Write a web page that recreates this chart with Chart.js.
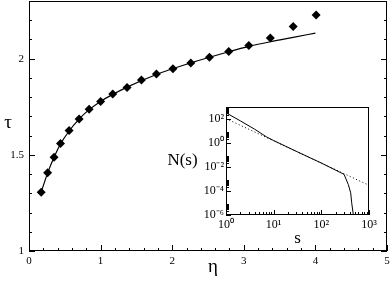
<!DOCTYPE html>
<html lang="en">
<head>
<meta charset="UTF-8">
<title>tau vs eta</title>
<script src="https://cdn.jsdelivr.net/npm/chart.js"></script>
<style>
    body { margin: 0; padding: 0; background: #fff; }
    .wrap { position: relative; width: 390px; height: 281px; }
    #mainChart { position: absolute; left: 0; top: 0; }
    #insetChart { position: absolute; left: 160px; top: 100px; }
</style>
</head>
<body>
<div class="wrap">
    <canvas id="mainChart" width="390" height="281"></canvas>
    <canvas id="insetChart" width="225" height="150"></canvas>
</div>
<script>
// main plot: tau against eta (diamonds) and the fitted curve
var etaPoints = [0.17, 0.26, 0.35, 0.44, 0.56, 0.70, 0.84, 1.00, 1.17, 1.37, 1.57, 1.78, 2.01, 2.26, 2.52, 2.79, 3.07, 3.37, 3.69, 4.01];
var tauPoints = [1.306, 1.407, 1.488, 1.559, 1.626, 1.687, 1.737, 1.778, 1.817, 1.850, 1.889, 1.921, 1.948, 1.978, 2.008, 2.038, 2.069, 2.107, 2.168, 2.227];
var etaFit = [0.17, 0.26, 0.35, 0.44, 0.56, 0.70, 0.84, 1.00, 1.37, 1.78, 2.26, 2.79, 3.07, 3.37, 3.69, 4.00];
var tauFit = [1.306, 1.405, 1.487, 1.556, 1.624, 1.686, 1.735, 1.778, 1.852, 1.918, 1.978, 2.036, 2.064, 2.088, 2.111, 2.133];
var xTicks = [0, 1, 2, 3, 4, 5];
var yTicks = [1, 1.5, 2];

// inset: N(s) on log-log axes
var sSolid = [1, 2, 4, 7, 10, 30, 100, 250, 300, 368, 413, 433, 470];
var nSolid = [330, 70, 14, 3.3, 1.6, 0.2, 0.0214, 0.0035, 0.0024, 3.5e-4, 7e-5, 1.05e-5, 1e-6];
var sDotted = [1, 1000];
var nDotted = [107, 3.0e-4];
var sTicks = [1, 10, 100, 1000];
var nTicks = [1e-6, 1e-4, 1e-2, 1, 100];

var serif = 'Liberation Serif';
var sup = { '0': '\u2070', '1': '\u00b9', '2': '\u00b2', '3': '\u00b3', '4': '\u2074', '6': '\u2076', '-': '\u207b' };
function pow10Label(v) {
    var e = String(Math.round(Math.log10(v)));
    return '10' + e.split('').map(function (c) { return sup[c]; }).join('');
}
function pairs(xs, ys) {
    return xs.map(function (x, i) { return { x: x, y: ys[i] }; });
}

// ticks pointing into the plot, the frame and the horizontal axis titles
var frameTicks = {
    id: 'frameTicks',
    afterDraw: function (chart, args, o) {
        var ctx = chart.ctx, a = chart.chartArea;
        var xs = chart.scales.x, ys = chart.scales.y;
        ctx.save();
        ctx.strokeStyle = '#000';
        ctx.lineWidth = 1;
        ctx.beginPath();
        o.xt.forEach(function (t) {
            var px = Math.round(xs.getPixelForValue(t[0])) + 0.5;
            ctx.moveTo(px, a.bottom);
            ctx.lineTo(px, a.bottom - t[1]);
        });
        o.yt.forEach(function (t) {
            var py = Math.round(ys.getPixelForValue(t[0])) + 0.5;
            ctx.moveTo(a.left, py);
            ctx.lineTo(a.left + t[1], py);
            if (o.mirror) {
                ctx.moveTo(a.right, py);
                ctx.lineTo(a.right - t[1], py);
            }
        });
        ctx.stroke();
        ctx.strokeRect(Math.round(a.left) + 0.5, Math.round(a.top) + 0.5,
            Math.round(a.right - a.left) - 1, Math.round(a.bottom - a.top) - 1);
        ctx.fillStyle = '#000';
        ctx.textAlign = 'center';
        ctx.textBaseline = 'middle';
        o.titles.forEach(function (t) {
            ctx.font = t.size + 'px "' + serif + '"';
            ctx.fillText(t.text, (a.left + a.right) / 2 + t.dx, t.fromBottom ? a.bottom + t.dy : (a.top + a.bottom) / 2 + t.dy);
        });
        ctx.restore();
    }
};

function fixX(h) {
    return function (s) { s.height = h; s.paddingLeft = 0; s.paddingRight = 0; };
}
function fixY(w) {
    return function (s) { s.width = w; s.paddingTop = 0; s.paddingBottom = 0; };
}

var mainXT = [], mainYT = [];
for (var i = 0; i <= 25; i++) mainXT.push([i * 0.2, i % 5 === 0 ? 6 : 3]);
for (var j = 0; j <= 13; j++) mainYT.push([1 + j * 0.1, j % 5 === 0 ? 6 : 3]);

new Chart(document.getElementById('mainChart'), {
    type: 'scatter',
    data: {
        datasets: [{
            label: 'tau',
            data: pairs(etaPoints, tauPoints),
            pointStyle: 'rectRot',
            pointRadius: 4.5,
            backgroundColor: '#000',
            borderColor: '#000',
            borderWidth: 0,
            showLine: false,
            order: 0
        }, {
            label: 'fit',
            data: pairs(etaFit, tauFit),
            showLine: true,
            borderColor: '#000',
            borderWidth: 1.2,
            pointRadius: 0,
            cubicInterpolationMode: 'monotone',
            order: 1
        }]
    },
    options: {
        responsive: false,
        animation: false,
        layout: { autoPadding: false, padding: { top: 1, right: 3, left: 0, bottom: 0 } },
        plugins: {
            legend: { display: false },
            tooltip: { enabled: false },
            frameTicks: {
                xt: mainXT, yt: mainYT, mirror: true,
                titles: [
                    { text: '\u03c4', size: 19, dx: -200, dy: -3 },
                    { text: '\u03b7', size: 19, dx: 5, dy: 16, fromBottom: true }
                ]
            }
        },
        scales: {
            x: {
                type: 'linear', min: 0, max: 5,
                afterBuildTicks: function (s) { s.ticks = xTicks.map(function (v) { return { value: v }; }); },
                afterFit: fixX(30),
                ticks: { callback: function (v) { return String(v); }, color: '#000', padding: 4, font: { family: serif, size: 11 } },
                grid: { display: false, drawTicks: false },
                border: { display: false }
            },
            y: {
                type: 'linear', min: 1, max: 2.3,
                afterBuildTicks: function (s) { s.ticks = yTicks.map(function (v) { return { value: v }; }); },
                afterFit: fixY(29),
                ticks: { callback: function (v) { return String(v); }, color: '#000', padding: 5, font: { family: serif, size: 11 } },
                grid: { display: false, drawTicks: false },
                border: { display: false }
            }
        }
    },
    plugins: [frameTicks]
});

var insetXT = [], insetYT = [];
for (var d = 0; d < 3; d++) {
    for (var k = 1; k <= 9; k++) insetXT.push([k * Math.pow(10, d), k === 1 ? 5 : 3]);
}
insetXT.push([1000, 5]);
for (var e = -6; e <= 2; e += 2) {
    insetYT.push([Math.pow(10, e), 5]);
    for (var m = 2; m <= 9; m++) insetYT.push([m * Math.pow(10, e), 3]);
}

new Chart(document.getElementById('insetChart'), {
    type: 'scatter',
    data: {
        datasets: [{
            label: 'N(s)',
            data: pairs(sSolid, nSolid),
            showLine: true,
            borderColor: '#000',
            borderWidth: 1,
            pointRadius: 0
        }, {
            label: 'power law',
            data: pairs(sDotted, nDotted),
            showLine: true,
            borderColor: '#000',
            borderWidth: 1,
            borderDash: [1, 2.5],
            pointRadius: 0
        }]
    },
    options: {
        responsive: false,
        animation: false,
        layout: { autoPadding: false, padding: { top: 7, right: 16, left: 0, bottom: 0 } },
        plugins: {
            legend: { display: false },
            tooltip: { enabled: false },
            frameTicks: {
                xt: insetXT, yt: insetYT, mirror: false,
                titles: [
                    { text: 'N(s)', size: 17, dx: -115, dy: 0 },
                    { text: 's', size: 17, dx: 0, dy: 24, fromBottom: true }
                ]
            }
        },
        scales: {
            x: {
                type: 'logarithmic', min: 1, max: 1000,
                afterBuildTicks: function (s) { s.ticks = sTicks.map(function (v) { return { value: v }; }); },
                afterFit: fixX(35),
                ticks: { callback: pow10Label, color: '#000', padding: 3, font: { family: serif, size: 12 } },
                grid: { display: false, drawTicks: false },
                border: { display: false }
            },
            y: {
                type: 'logarithmic', min: 1e-6, max: 1000,
                afterBuildTicks: function (s) { s.ticks = nTicks.map(function (v) { return { value: v }; }); },
                afterFit: fixY(66),
                ticks: { callback: pow10Label, color: '#000', padding: 2, font: { family: serif, size: 12 } },
                grid: { display: false, drawTicks: false },
                border: { display: false }
            }
        }
    },
    plugins: [frameTicks]
});
</script>
</body>
</html>
